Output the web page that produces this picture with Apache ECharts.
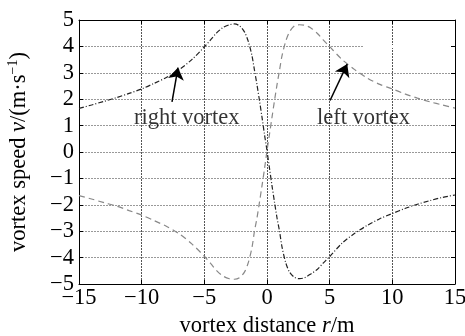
<!DOCTYPE html>
<html><head><meta charset="utf-8">
<script src="https://cdn.jsdelivr.net/npm/echarts@6/dist/echarts.min.js"></script>
<style>html,body{margin:0;padding:0;background:#fff}#c{width:465px;height:336px}</style>
</head><body><div id="c"></div>
<script>
// Sample positions along the distance axis (m)
const distances = [-15,-14,-13,-12,-11,-10,-9,-8,-7,-6,-5,-4.5,-4,-3.5,-3,-2.6,-2.2,-1.8,-1.5,-1.2,-1,-0.8,-0.6,-0.4,-0.2,0,
  0.2,0.4,0.6,0.8,1,1.2,1.5,1.8,2.2,2.6,3,3.5,4,4.5,5,6,7,8,9,10,11,12,13,14,15];
// Right vortex speed (m/s)
const rightVortex = [1.65,1.78,1.92,2.06,2.22,2.39,2.6,2.83,3.12,3.5,3.98,4.25,4.52,4.72,4.82,4.85,4.78,4.55,4.2,3.65,3.1,2.55,1.95,1.32,0.66,0.05,
  -0.62,-1.28,-1.9,-2.5,-3.0,-3.6,-4.2,-4.55,-4.75,-4.8,-4.76,-4.62,-4.45,-4.2,-3.96,-3.45,-3.08,-2.78,-2.53,-2.33,-2.14,-1.98,-1.84,-1.72,-1.63];
// Left vortex speed (m/s)
const leftVortex = [-1.65,-1.78,-1.92,-2.05,-2.22,-2.39,-2.6,-2.82,-3.1,-3.48,-3.95,-4.22,-4.5,-4.7,-4.8,-4.82,-4.76,-4.55,-4.2,-3.62,-3.0,-2.5,-1.9,-1.28,-0.64,0.05,
  0.68,1.32,1.95,2.55,3.1,3.65,4.2,4.55,4.78,4.82,4.8,4.7,4.5,4.24,3.99,3.5,3.12,2.8,2.56,2.39,2.2,2.04,1.9,1.78,1.66];
const xTicks = [-15,-10,-5,0,5,10,15];
const yTicks = [-5,-4,-3,-2,-1,0,1,2,3,4,5];
// Annotations: label, text position, arrow tail, arrow head (data units)
const annotations = [
  {name:'right vortex', text:[-6.4,1.3], tail:[-7.58,1.9], head:[-7.1,3.2]},
  {name:'left vortex', text:[7.7,1.3], tail:[5.03,1.95], head:[6.4,3.33]}
];
const gridGap = [[7.7,4],[14.6,4]];

const font = 'Liberation Serif';
const fs = 22.5;
const chart = echarts.init(document.getElementById('c'));
const pairs = ys => distances.map((x,i)=>[x, ys[i]]);
const minus = v=>String(v).replace('-','\u2212');
chart.setOption({
  backgroundColor:'#fff',
  animation:false,
  textStyle:{fontFamily:font, color:'#000'},
  grid:{left:79, right:10, top:20, bottom:52, containLabel:false, outerBoundsMode:'none'},
  xAxis:[{
    type:'value', min:-15, max:15, interval:5,
    name:'vortex distance {i|r}/m', nameLocation:'middle', nameGap:23,
    nameTextStyle:{fontFamily:font, fontSize:fs, color:'#000', rich:{i:{fontFamily:font,fontSize:fs,fontStyle:'italic',color:'#000'}}},
    axisLine:{onZero:false, lineStyle:{color:'#000', width:1}},
    axisTick:{inside:true, length:4, lineStyle:{color:'#000'}},
    axisLabel:{fontFamily:font, fontSize:fs, color:'#000', margin:3, formatter:minus},
    splitLine:{show:true, lineStyle:{color:'#555', width:1, type:[2,1]}}
  },{
    type:'value', min:-15, max:15, interval:5, position:'top',
    axisLine:{show:true, onZero:false, lineStyle:{color:'#000', width:1}},
    axisTick:{inside:true, length:4, lineStyle:{color:'#000'}},
    axisLabel:{show:false}, splitLine:{show:false}
  }],
  yAxis:[{
    type:'value', min:-5, max:5, interval:1,
    name:'vortex speed {i|v}/(m·s{s|\u22121})', nameLocation:'middle', nameGap:47, nameRotate:90,
    nameTextStyle:{fontFamily:font, fontSize:fs, color:'#000', lineHeight:26,
      rich:{i:{fontFamily:font,fontSize:fs,fontStyle:'italic',color:'#000',lineHeight:26},
            s:{fontFamily:font,fontSize:14,color:'#000',verticalAlign:'top',lineHeight:26}}},
    axisLine:{show:true, onZero:false, lineStyle:{color:'#000', width:1}},
    axisTick:{inside:true, length:4, lineStyle:{color:'#000'}},
    axisLabel:{fontFamily:font, fontSize:fs, color:'#000', margin:5, formatter:minus},
    splitLine:{show:true, lineStyle:{color:'#999', width:1, type:[2,1]}}
  },{
    type:'value', min:-5, max:5, interval:1, position:'right',
    axisLine:{show:true, onZero:false, lineStyle:{color:'#000', width:1}},
    axisTick:{inside:true, length:4, lineStyle:{color:'#000'}},
    axisLabel:{show:false}, splitLine:{show:false}
  }],
  series:[{
    name:'right vortex', type:'line', data:pairs(rightVortex), smooth:0.3, showSymbol:false,
    lineStyle:{color:'#222', width:1.2, type:[5,2,1,2]},
    markLine:{silent:true, symbol:['none','arrow'], symbolSize:12, animation:false,
      label:{show:false}, lineStyle:{color:'#000', width:1.5, type:'solid'},
      data:[[{coord:annotations[0].tail},{coord:annotations[0].head}],
            [{coord:annotations[1].tail},{coord:annotations[1].head}]]}
  },{
    name:'left vortex', type:'line', data:pairs(leftVortex), smooth:0.3, showSymbol:false,
    lineStyle:{color:'#888', width:1.2, type:[6,4]},
    markLine:{silent:true, symbol:['none','none'], animation:false, label:{show:false},
      lineStyle:{color:'#fff', width:3, type:'solid'},
      data:[[{coord:gridGap[0]},{coord:gridGap[1]}]]}
  },{
    type:'scatter', data:annotations.map(a=>({value:a.text, name:a.name})), symbolSize:0, silent:true,
    label:{show:true, position:'inside', formatter:p=>p.name, fontFamily:font, fontSize:fs, color:'#000'}
  }]
});
</script></body></html>
